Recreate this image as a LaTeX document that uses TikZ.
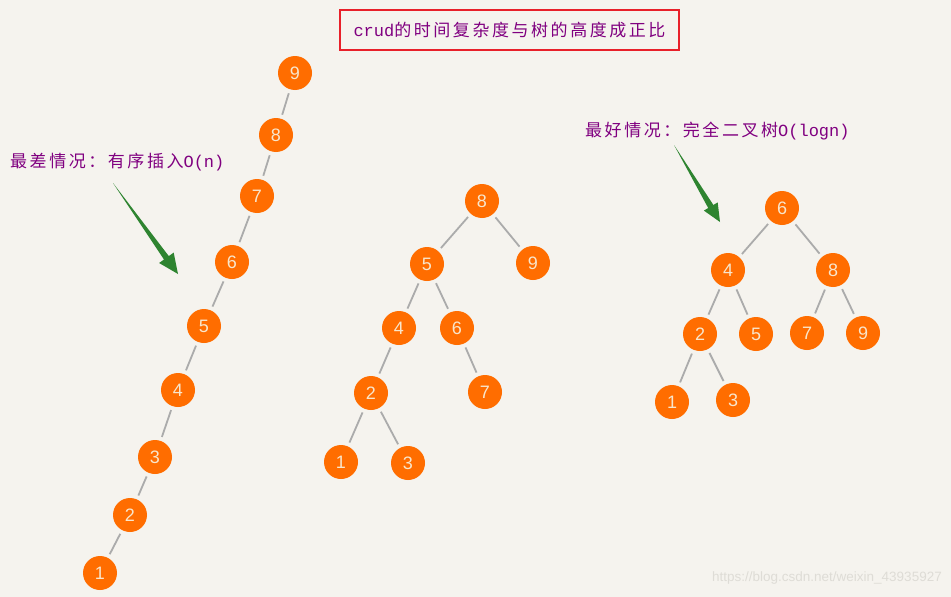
\documentclass[tikz,border=0pt]{standalone}
\usepackage{fontspec}
\newfontfamily\cjk[LetterSpace=15]{Noto Sans CJK SC}
\newfontfamily\lat{Liberation Mono}
\newfontfamily\dig{Liberation Sans}
\definecolor{bg}{HTML}{F5F3EE}
\definecolor{nodeor}{HTML}{FF6D00}
\definecolor{digc}{HTML}{F8E6CC}
\definecolor{edgec}{HTML}{ABABAB}
\definecolor{purp}{HTML}{800080}
\definecolor{boxred}{HTML}{E8202A}
\definecolor{arrg}{HTML}{2E8430}
\definecolor{wm}{HTML}{DEDCD6}
\tikzset{
  nd/.style={circle,fill=nodeor,minimum size=34pt,inner sep=0pt,text=digc,font=\dig\fontsize{18}{18}\selectfont},
  ed/.style={draw=edgec,line width=1.8pt,shorten <=4pt,shorten >=4pt},
  lbl/.style={text=purp,inner sep=0pt,anchor=west,font=\fontsize{17}{20}\selectfont},
  garrow/.style={fill=arrg,draw=none}
}
\begin{document}
\begin{tikzpicture}[x=1pt,y=-1pt]
\fill[bg] (0,0) rectangle (951,597);
\useasboundingbox (0,0) rectangle (951,597);
% title
\node[draw=boxred,line width=1.6pt,minimum width=339pt,minimum height=40pt,inner sep=0pt,text=purp,font=\fontsize{17}{20}\selectfont] (title) at (509.5,30) {{\lat crud}{\cjk 的时间复杂度与树的高度成正比}};
% labels
\node[lbl] (worst) at (10,162) {{\cjk 最差情况：有序插入}{\lat O(n)}};
\node[lbl] (best) at (585,131) {{\cjk 最好情况：完全二叉树}{\lat O(logn)}};
% arrows
\coordinate (wa) at (113,183);
\coordinate (wb) at (178,274);
\fill[garrow] (wa) -- (164.0,259.5) -- (159.1,263.0) -- (wb) -- (173.7,252.6) -- (168.8,256.1) -- cycle;
\coordinate (ba) at (674,145);
\coordinate (bb) at (720,222);
\fill[garrow] (ba) -- (708.2,208.0) -- (703.9,210.6) -- (bb) -- (717.7,202.4) -- (713.4,205.0) -- cycle;
% left chain
\node[nd] (L9) at (295,73) {9};
\node[nd] (L8) at (276,135) {8};
\node[nd] (L7) at (257,196) {7};
\node[nd] (L6) at (232,262) {6};
\node[nd] (L5) at (204,326) {5};
\node[nd] (L4) at (178,390) {4};
\node[nd] (L3) at (155,457) {3};
\node[nd] (L2) at (130,515) {2};
\node[nd] (L1) at (100,573) {1};
\foreach \a/\b in {L9/L8,L8/L7,L7/L6,L6/L5,L5/L4,L4/L3,L3/L2,L2/L1}
  \draw[ed] (\a) -- (\b);
% middle tree
\node[nd] (M8) at (482,201) {8};
\node[nd] (M5) at (427,264) {5};
\node[nd] (M9) at (533,263) {9};
\node[nd] (M4) at (399,328) {4};
\node[nd] (M6) at (457,328) {6};
\node[nd] (M2) at (371,393) {2};
\node[nd] (M7) at (485,392) {7};
\node[nd] (M1) at (341,462) {1};
\node[nd] (M3) at (408,463) {3};
\foreach \a/\b in {M8/M5,M8/M9,M5/M4,M5/M6,M4/M2,M6/M7,M2/M1,M2/M3}
  \draw[ed] (\a) -- (\b);
% right tree
\node[nd] (R6) at (782,208) {6};
\node[nd] (R4) at (728,270) {4};
\node[nd] (R8) at (833,270) {8};
\node[nd] (R2) at (700,334) {2};
\node[nd] (R5) at (756,334) {5};
\node[nd] (R7) at (807,333) {7};
\node[nd] (R9) at (863,333) {9};
\node[nd] (R1) at (672,402) {1};
\node[nd] (R3) at (733,400) {3};
\foreach \a/\b in {R6/R4,R6/R8,R4/R2,R4/R5,R8/R7,R8/R9,R2/R1,R2/R3}
  \draw[ed] (\a) -- (\b);
% watermark
\node[text=wm,inner sep=0pt,anchor=east,font=\dig\fontsize{13.5}{14}\selectfont] (wmark) at (942,578) {https://blog.csdn.net/weixin\_43935927};
\end{tikzpicture}
\end{document}
